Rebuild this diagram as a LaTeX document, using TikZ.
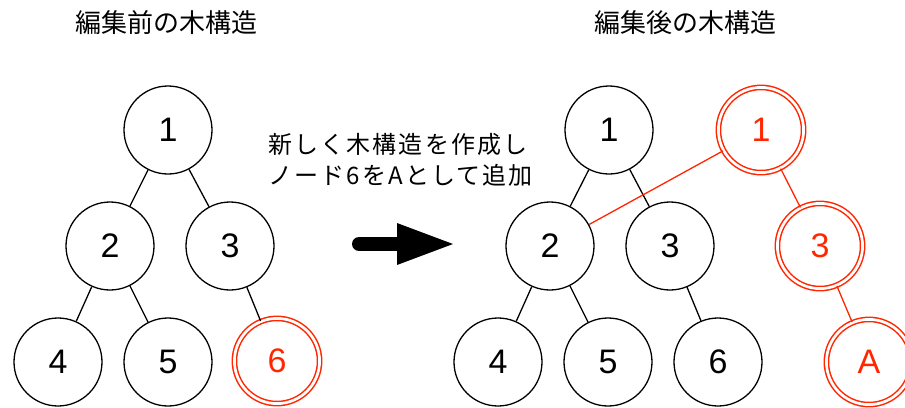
\documentclass[tikz,border=0pt]{standalone}
\usepackage{fontspec}
\setmainfont{Liberation Sans}
\newfontfamily\jp{Noto Sans CJK JP}
\newfontfamily\jpsp[LetterSpace=9]{Noto Sans CJK JP}
\definecolor{myred}{RGB}{255,38,0}
\begin{document}
\begin{tikzpicture}[x=1pt,y=-1pt,
  tn/.style={circle,draw=black,line width=1.3pt,minimum size=88pt,inner sep=0pt,font=\fontsize{34}{36}\selectfont},
  rn/.style={circle,draw=myred,text=myred,line width=1.5pt,double=white,double distance=2.7pt,minimum size=85.2pt,inner sep=0pt,font=\fontsize{34}{36}\selectfont},
  edge/.style={black,line width=1.3pt},
  redge/.style={myred,line width=1.3pt},
  title/.style={font=\jp\fontsize{26}{30}\selectfont,inner sep=0pt}]
\useasboundingbox (0,0) rectangle (905,407);
% titles
\node[title] (t1) at (166,23) {編集前の木構造};
\node[title] (t2) at (685,23) {編集後の木構造};
% left tree
\node[tn] (L1) at (168,130) {1};
\node[tn] (L2) at (110,246) {2};
\node[tn] (L3) at (230,246) {3};
\node[tn] (L4) at (58,362) {4};
\node[tn] (L5) at (168,362) {5};
\node[rn] (L6) at (277,361) {6};
\draw[edge] (L1) -- (L2);
\draw[edge] (L1) -- (L3);
\draw[edge] (L2) -- (L4);
\draw[edge] (L2) -- (L5);
\draw[edge] (L3) -- (L6);
% middle text
\node[anchor=west,align=left,inner sep=0pt,font=\jpsp\fontsize{24}{31}\selectfont] (m) at (268,160) {新しく木構造を作成し\\ノード6をAとして追加};
% arrow
\coordinate (as) at (359,244);
\coordinate (ab) at (399,244);
\coordinate (au) at (397,223);
\coordinate (ad) at (397,265);
\coordinate (at) at (453,244);
\draw[line width=14pt,line cap=round] (as) -- (ab);
\fill (au) -- (ad) -- (at) -- cycle;
% right tree
\node[tn] (R1) at (609,130) {1};
\node[tn] (R2) at (550,246) {2};
\node[tn] (R3) at (670,246) {3};
\node[tn] (R4) at (498,362) {4};
\node[tn] (R5) at (608,362) {5};
\node[tn] (R6) at (718,362) {6};
\draw[edge] (R1) -- (R2);
\draw[edge] (R1) -- (R3);
\draw[edge] (R2) -- (R4);
\draw[edge] (R2) -- (R5);
\draw[edge] (R3) -- (R6);
\node[rn] (N1) at (761,130) {1};
\node[rn] (N3) at (820,246) {3};
\node[rn] (NA) at (869,362) {A};
\draw[redge] (N1) -- (R2);
\draw[redge] (N1) -- (N3);
\draw[redge] (N3) -- (NA);
\end{tikzpicture}
\end{document}
